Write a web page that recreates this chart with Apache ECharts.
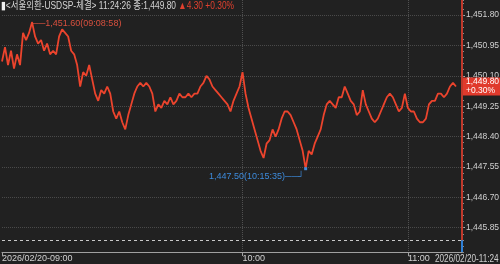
<!DOCTYPE html>
<html><head><meta charset="utf-8">
<script src="https://cdn.jsdelivr.net/npm/echarts@6/dist/echarts.min.js"></script>
<style>html,body{margin:0;padding:0;background:#212121}#c{width:500px;height:264px}</style>
</head><body><div id="c"></div>
<script>
const prices = [
1450.5,1450.9,1450.4,1450.8,1450.3,1450.7,1450.4,1451.3,1451.1,1451.3,
1451.6,1451.2,1451.0,1451.1,1450.8,1451.0,1450.7,1450.8,1450.7,1451.2,
1451.4,1451.3,1451.2,1450.8,1450.7,1450.4,1449.8,1450.2,1450.1,1450.4,
1450.0,1449.6,1449.4,1449.7,1449.6,1449.8,1449.6,1449.1,1448.9,1449.1,
1448.8,1448.6,1449.0,1449.3,1449.6,1449.8,1449.9,1449.8,1449.9,1449.8,
1449.6,1449.1,1449.3,1449.2,1449.4,1449.3,1449.5,1449.3,1449.4,1449.6,
1449.5,1449.5,1449.6,1449.5,1449.6,1449.6,1449.8,1449.9,1450.1,1450.0,
1449.8,1449.7,1449.6,1449.5,1449.4,1449.3,1449.1,1449.4,1449.6,1449.8,
1450.2,1449.6,1449.2,1448.9,1448.6,1448.3,1448.0,1447.8,1448.2,1448.3,
1448.6,1448.4,1448.6,1448.9,1449.1,1449.1,1449.0,1448.8,1448.6,1448.3,
1448.0,1447.5,1448.0,1447.9,1448.2,1448.4,1448.6,1449.0,1449.3,1449.4,
1449.3,1449.2,1449.5,1449.5,1449.8,1449.6,1449.4,1449.3,1449.0,1449.1,
1449.7,1449.3,1449.1,1448.9,1448.8,1448.9,1449.1,1449.3,1449.5,1449.6,
1449.5,1449.3,1449.1,1449.2,1449.6,1449.2,1449.1,1449.1,1448.9,1448.8,
1448.8,1448.9,1449.3,1449.4,1449.4,1449.6,1449.6,1449.5,1449.6,1449.8,
1449.9,1449.8
];
const slotCount = 154;
const tickIndex = [0, 80, 135];
const tickText = ['2026/02/20-09:00', '10:00', '11:00'];
const endTimeLabel = '2026/02/20-11:24';
const yTicks = [1445.85, 1446.70, 1447.55, 1448.40, 1449.25, 1450.10, 1450.95, 1451.80];
const yMin = 1445.17, yMax = 1452.22, yMinorStep = 0.17;
const prevClose = 1445.50;
const lastPrice = 1449.80;
const changeAbs = 4.30, changePct = 0.30;
const headerTitle = '<서울외환-USDSP-체결> 11:24:26 종:';
const maxPoint = {index: 10, value: 1451.60, time: '09:08:58'};
const minPoint = {index: 101, value: 1447.50, time: '10:15:35'};

const categories = Array.from({length: slotCount}, (_, i) => String(i));
const fmt = v => v.toLocaleString('en-US', {minimumFractionDigits: 2, maximumFractionDigits: 2});
const FONT = "'Liberation Sans','Noto Sans CJK KR',sans-serif";
const isTick = i => tickIndex.indexOf(i) >= 0;
const GRID = {left: 2, right: 38, top: 0, bottom: 12};

const chart = echarts.init(document.getElementById('c'), null, {renderer: 'canvas'});
chart.setOption({
  backgroundColor: '#212121',
  animation: false,
  grid: Object.assign({outerBoundsMode: 'none', containLabel: false}, GRID),
  xAxis: {
    type: 'category', data: categories, boundaryGap: false,
    axisLine: {lineStyle: {color: '#a0a0a0', width: 1}},
    axisTick: {show: true, interval: i => isTick(i), length: 4, lineStyle: {color: '#a0a0a0'}},
    axisLabel: {
      interval: i => isTick(i), align: 'left', margin: 2,
      color: '#d0d0d0', fontFamily: FONT, fontSize: 9,
      formatter: (v, i) => tickText[tickIndex.indexOf(i)] || ''
    },
    splitLine: {show: true, interval: i => isTick(i) && i > 0, lineStyle: {color: '#505050', type: 'dotted'}}
  },
  yAxis: [{
    type: 'value', position: 'right', min: yMin, max: yMax,
    axisLine: {show: true, onZero: false, lineStyle: {color: '#c0392b', width: 2}},
    axisTick: {show: true, customValues: yTicks, length: 3, lineStyle: {color: '#b0b0b0'}},
    axisLabel: {customValues: yTicks, color: '#d0d0d0', fontFamily: FONT, fontSize: 8.5, margin: 4, formatter: v => fmt(v)},
    splitLine: {show: true, lineStyle: {color: '#4a4a4a', type: 'dotted'}}
  }, {
    type: 'value', position: 'right', min: yMin, max: yMax, interval: yMinorStep,
    axisLine: {show: false, onZero: false},
    axisTick: {show: true, length: 2, lineStyle: {color: '#8c8c8c'}},
    axisLabel: {show: false},
    splitLine: {show: false}
  }],
  series: [{
    type: 'line', data: prices, showSymbol: false, symbol: 'none',
    lineStyle: {color: '#ec442d', width: 1.8},
    markLine: {
      silent: true, symbol: 'none',
      data: [
        {yAxis: prevClose, lineStyle: {color: '#c8c8c8', type: [3, 3], width: 1}, label: {show: false}},
        {yAxis: lastPrice, lineStyle: {color: 'rgba(0,0,0,0)', width: 0},
         label: {show: true, position: 'end', distance: 1, formatter: fmt(lastPrice) + '\n+' + changePct.toFixed(2) + '%',
                 backgroundColor: '#e03a2c', color: '#ffffff', fontFamily: FONT, fontSize: 8.5, lineHeight: 9,
                 padding: [0, 2, 0, 3], align: 'left'}}
      ]
    },
    markPoint: {
      silent: true,
      data: [
        {coord: [maxPoint.index, maxPoint.value], symbol: 'rect', symbolSize: 1,
         itemStyle: {color: '#e5432d'},
         label: {show: true, position: 'right', distance: 0, offset: [0, 1],
                 formatter: '──' + fmt(maxPoint.value) + '(' + maxPoint.time + ')',
                 color: '#d9503e', fontFamily: FONT, fontSize: 9}},
        {coord: [minPoint.index, minPoint.value], symbol: 'rect', symbolSize: 3,
         itemStyle: {color: '#3d8bdc'},
         label: {show: true, position: 'left', distance: 0, offset: [0, 8],
                 formatter: fmt(minPoint.value) + '(' + minPoint.time + ')──┘',
                 color: '#3d8bdc', fontFamily: FONT, fontSize: 9}}
      ]
    }
  }]
});

const yPrev = chart.convertToPixel({yAxisIndex: 0}, prevClose);
const yBottom = chart.convertToPixel({yAxisIndex: 0}, yMin);
const yTop = chart.convertToPixel({yAxisIndex: 0}, yMax);
const xAxisPos = chart.getWidth() - GRID.right;
chart.setOption({
  graphic: [{
    type: 'text', x: 1, y: 1, scaleX: 0.8, z: 100,
    style: {
      text: '{w|▮}{g|' + headerTitle + fmt(lastPrice) + ' }{r|▲' + changeAbs.toFixed(2) + ' +' + changePct.toFixed(2) + '%}',
      font: '10.5px ' + FONT, fill: '#d4d4d4',
      rich: {
        w: {fill: '#eeeeee', font: '10.5px ' + FONT},
        g: {fill: '#d4d4d4', font: '10.5px ' + FONT},
        r: {fill: '#e0402e', font: '10.5px ' + FONT}
      }
    }
  }, {
    type: 'text', x: 435, y: 254, scaleX: 0.82, z: 100,
    style: {text: endTimeLabel, fill: '#d0d0d0', font: '10px ' + FONT}
  }, {
    type: 'line', z: 100,
    shape: {x1: xAxisPos, y1: yTop, x2: xAxisPos, y2: yPrev},
    style: {stroke: '#c0392b', lineWidth: 2}
  }, {
    type: 'line', z: 100,
    shape: {x1: xAxisPos, y1: yPrev, x2: xAxisPos, y2: yBottom},
    style: {stroke: '#2d7fd6', lineWidth: 2}
  }]
});
</script></body></html>
